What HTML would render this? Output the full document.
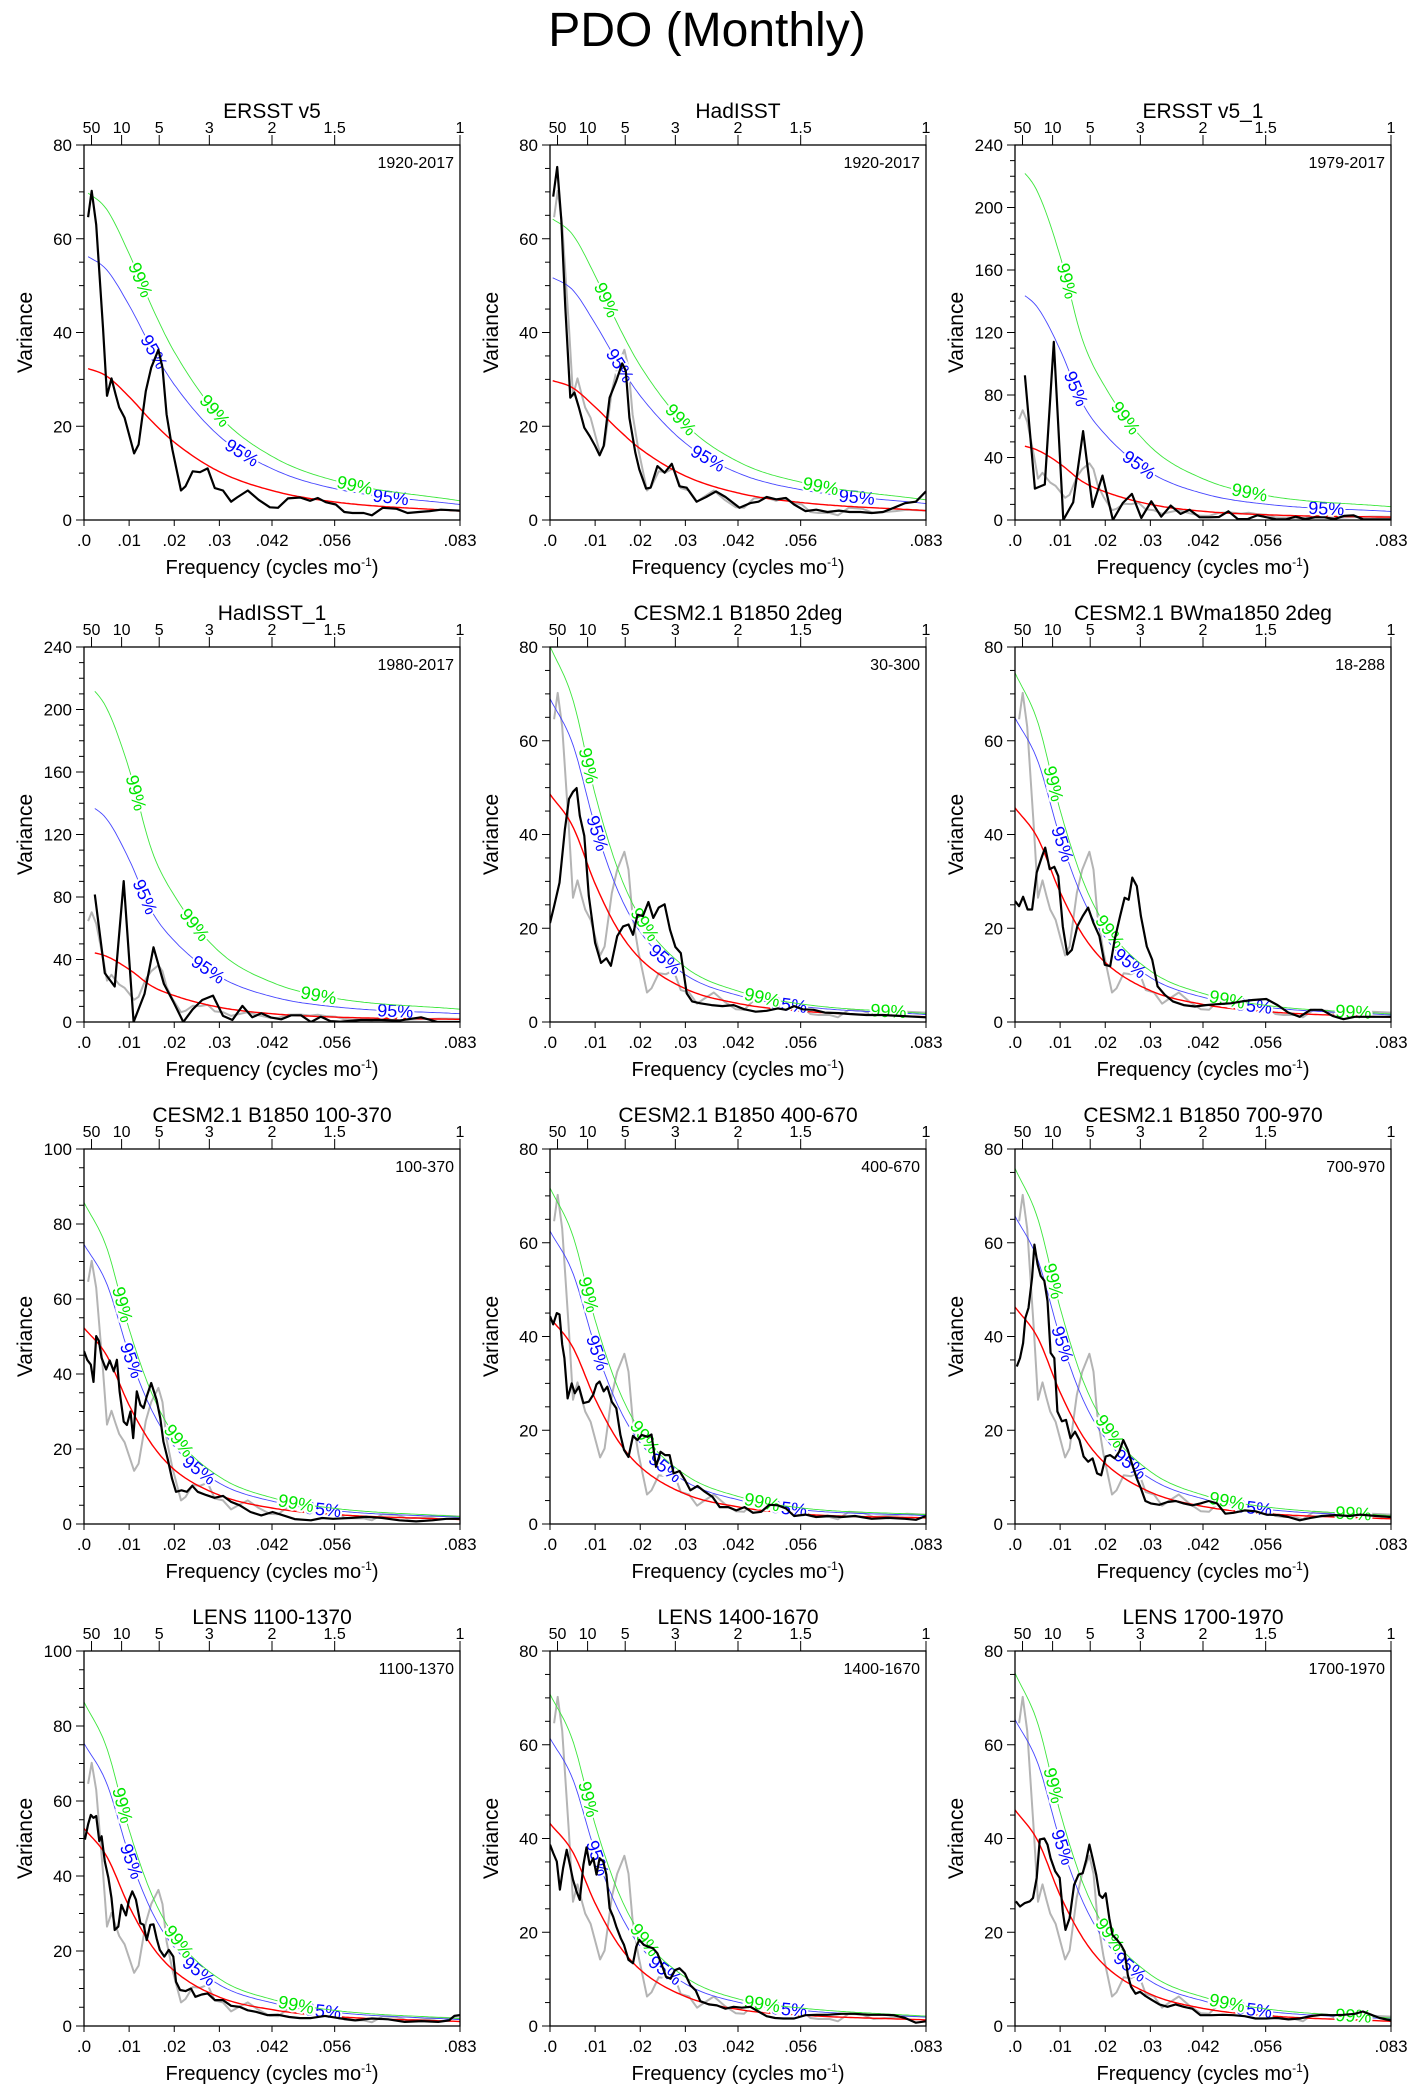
<!DOCTYPE html>
<html><head><meta charset="utf-8"><title>PDO (Monthly)</title>
<style>
html,body{margin:0;padding:0;background:#fff;}
svg{display:block;font-family:"Liberation Sans",Arial,sans-serif;}
</style></head>
<body>
<svg id="fig" xmlns="http://www.w3.org/2000/svg" width="1410" height="2095" viewBox="0 0 1410 2095">
<rect x="0" y="0" width="1410" height="2095" fill="#fff"/>
<text x="707" y="46" font-size="48" text-anchor="middle">PDO (Monthly)</text>
</svg>
<script>
// ---------- shared axis data ----------
const xTickFreqs = [0, 0.01, 0.02, 0.03, 0.041667, 0.055556, 0.083333];
const xTickLabels = [".0", ".01", ".02", ".03", ".042", ".056", ".083"];
const periodTickFreqs = [0.001667, 0.008333, 0.016667, 0.027778, 0.041667, 0.055556, 0.083333];
const periodTickLabels = ["50", "10", "5", "3", "2", "1.5", "1"];
const curveFreq = [0, 0.005, 0.01, 0.015, 0.02, 0.03, 0.042, 0.056, 0.0833];

const panelTitles = ["ERSST v5","HadISST","ERSST v5_1","HadISST_1","CESM2.1 B1850 2deg","CESM2.1 BWma1850 2deg","CESM2.1 B1850 100-370","CESM2.1 B1850 400-670","CESM2.1 B1850 700-970","LENS 1100-1370","LENS 1400-1670","LENS 1700-1970"];
const periodLabels = ["1920-2017","1920-2017","1979-2017","1980-2017","30-300","18-288","100-370","400-670","700-970","1100-1370","1400-1670","1700-1970"];
const yMaxes = [80,80,240,240,80,80,100,80,80,100,80,80];
const curveStart = [0.0009,0.0006,0.0022,0.0024,0,0,0,0,0,0,0,0];
const showGray = [false,true,true,true,true,true,true,true,true,true,true,true];

// ---------- red-noise / significance curves (read values) ----------
const red1=[32.6,30.7,26.3,21.1,16.6,10.3,6.2,3.8,1.9];
const c99_1=[70.4,66.3,56.8,45.6,35.9,22.2,13.4,8.3,4.1];
const c95_1=[56.7,53.4,45.8,36.7,28.9,17.9,10.8,6.6,3.3];
const red2=[29.9,28.2,24.1,19.4,15.2,9.4,5.7,3.7,2.0];
const c99_2=[64.6,60.9,52.1,41.8,32.9,20.4,12.3,8.0,4.3];
const c95_2=[52,49.1,41.9,33.7,26.5,16.4,9.9,6.4,3.5];
const red3=[48.7,44.7,35.9,24.5,18,10,5.5,3.3,1.8];
const c99_3=[229,210,169,115,85,47,26,15.5,8.5];
const c95_3=[148,136,109,74.5,54.7,30.4,16.7,10,5.5];
const red4=[45.7,42,33.7,23,16.9,9.4,5.2,3.1,1.7];
const c99_4=[219,201,162,110,81,45,25,15,8.2];
const c95_4=[141,130,104,71,52,29,16,9.6,5.3];
const red5=[48.6,41.8,29.5,19.8,13.5,7.1,3.9,2.3,1.1];
const c99_5=[80.2,69,48.6,32.7,22.3,11.7,6.5,3.8,1.8];
const c95_5=[69,59.4,41.8,28.1,19.2,10.1,5.6,3.3,1.6];
const red6=[45.7,39.3,27.7,18.6,12.7,6.7,3.7,2.2,1.0];
const c99_6=[74.5,64.1,45.2,30.3,20.7,10.9,6.0,3.5,1.7];
const c95_6=[64.9,55.8,39.4,26.4,18,9.5,5.2,3.1,1.5];
const red7=[52.3,45,31.7,21.3,14.5,7.7,4.2,2.5,1.2];
const c99_7=[85.8,73.8,52,34.9,23.8,12.6,6.9,4.1,2.0];
const c95_7=[74.6,64.2,45.3,30.4,20.7,10.9,6,3.5,1.8];
const red8=[44,37.8,26.7,17.9,12.2,6.4,3.6,2.1,1.3];
const c99_8=[71.7,61.7,43.5,29.2,19.9,10.5,5.8,3.4,2.0];
const c95_8=[62.5,53.7,37.9,25.4,17.3,9.1,5.1,3.0,1.8];
const red9=[46.3,39.8,28.1,18.8,12.9,6.8,3.7,2.2,1.1];
const c99_9=[75.9,65.3,46.1,30.8,21.2,11.2,6.1,3.6,1.8];
const c95_9=[65.7,56.5,39.9,26.7,18.3,9.7,5.3,3.1,1.6];
const red10=[52.7,45.3,31.9,21.4,14.7,7.7,4.3,2.5,1.2];
const c99_10=[86.4,74.3,52.3,35.1,24.1,12.6,7,4.1,2.0];
const c95_10=[75.4,64.8,45.6,30.6,21,11,6.1,3.6,1.7];
const red11=[43.2,37.2,26.2,17.6,12,6.3,3.5,2.3,1.3];
const c99_11=[70.8,61,43,28.9,19.7,10.4,5.7,3.8,2.1];
const c95_11=[61.4,52.8,37.2,25,17,9,5,3.3,1.9];
const red12=[46.1,39.6,27.9,18.8,12.8,6.8,3.7,2.2,1.0];
const c99_12=[75.3,64.7,45.6,30.6,20.9,11.0,6.1,3.6,1.7];
const c95_12=[65.4,56.2,39.6,26.6,18.1,9.6,5.3,3.1,1.5];

// ---------- spectra (black lines) ----------
const f1=[.0009,.0017,.0027,.0042,.0051,.0061,.007,.0078,.009,.0111,.0121,.0137,.0149,.0165,.0174,.0183,.0196,.0215,.0225,.0241,.0257,.0274,.029,.0308,.0326,.0339,.0363,.0387,.0412,.043,.0452,.0479,.0501,.0518,.0536,.0558,.0577,.0595,.062,.0638,.0662,.0693,.0717,.0742,.0766,.0791,.0833];
const v1=[64.6,70.2,63,41,26.5,30.2,26.8,24,21.8,14.2,16.1,27.5,32.5,36.3,32.5,22.5,15,6.3,7.2,10.4,10.2,11,6.8,6.3,3.9,4.8,6.3,4.3,2.7,2.6,4.6,4.8,4.1,4.7,3.8,3.3,1.7,1.5,1.5,1.0,2.6,2.4,1.5,1.7,1.9,2.2,2.0];
const f2=[.0007,.0016,.0025,.0034,.0045,.0054,.0064,.0076,.0088,.01,.011,.0119,.0132,.0147,.016,.0168,.0176,.0189,.0198,.0213,.0223,.0238,.0254,.027,.0287,.0303,.0325,.0346,.0368,.0389,.042,.0444,.0462,.048,.0502,.0523,.0541,.0566,.059,.0615,.064,.0664,.0688,.0713,.0738,.0762,.0787,.0811,.0833];
const v2=[69,75.3,64,45.4,26.1,27.2,24,19.7,17.9,15.8,13.8,15.8,26.1,29.7,33.4,31.8,21.8,14.4,10.8,6.7,6.9,11.5,10.1,12,7.2,6.9,3.9,4.9,6.1,4.9,2.6,3.6,3.9,4.9,4.4,4.7,3.3,1.9,2.2,1.7,2,1.7,1.7,1.5,1.7,2.6,3.6,3.9,6.1];
const f3=[.0022,.0044,.0066,.0086,.0107,.0129,.0151,.0172,.0194,.0217,.0239,.0259,.028,.0302,.0324,.0345,.0367,.0387,.0409,.043,.0452,.0473,.0494,.0515,.0537,.0558,.058,.06,.0622,.0643,.0665,.0686,.0708,.0729,.075,.0772,.0793,.0833];
const v3=[92.6,20.1,22.7,114,0,11.3,56.9,8.3,28.4,0,10.9,16.7,1.3,12,2.1,9.2,3.9,6.6,1.7,1.7,1.9,5.6,.6,.6,3,1.7,.4,.4,2.1,.6,1.7,1.7,.6,2.6,3,.4,.4,.4];
const f4=[.0024,.0046,.0068,.0088,.011,.0134,.0154,.0177,.0198,.022,.0241,.0262,.0286,.0308,.0329,.0351,.0373,.0393,.0415,.0437,.0459,.0481,.0503,.0525,.0546,.0568,.0613,.0656,.0699,.0747,.0784,.0833];
const v4=[81.6,31.3,22.7,90.2,0,18,47.8,24.4,13,0,8.1,14.1,16.9,3.9,1.3,10.3,3,5.6,2.8,1.7,4.3,4.3,0,3.4,.6,.2,1.3,1.3,.9,3,0,0];
const f5=[0,.0009,.0021,.0033,.0042,.0051,.0059,.0066,.0076,.0086,.01,.0113,.0125,.0135,.0149,.0162,.0174,.0184,.0194,.0206,.0218,.0229,.0241,.0254,.0266,.0278,.029,.0303,.0315,.0333,.0358,.0382,.0407,.0431,.0456,.048,.0505,.0523,.0541,.056,.0584,.0609,.064,.0664,.0701,.0737,.0774,.0833];
const v5=[21.1,24.7,29.7,41.1,47.6,49.1,49.9,44,39.7,26.9,16.9,12.6,13.6,12,18.3,20.4,20.8,18.6,22.9,22.6,25.6,22.2,24.4,25.1,19.7,16,14.7,6.1,4.4,4,3.6,3.4,3.6,2.7,2.2,2.4,2.9,2.6,3.4,2.7,2.6,2,1.9,1.7,1.5,1.5,1.3,1];
const f6=[0,.0009,.0018,.0028,.0038,.0048,.006,.0067,.0077,.0087,.0096,.0106,.0116,.0126,.0138,.015,.0162,.0174,.0187,.0199,.0211,.0221,.0233,.0243,.0252,.026,.027,.0279,.0292,.0304,.0316,.0332,.035,.0374,.0399,.0423,.0448,.0478,.0503,.0527,.0557,.0582,.0606,.0631,.0655,.068,.0704,.0728,.0753,.0777,.0833];
const v6=[25.8,24.7,26.7,24,24,31.9,35.4,37.2,32.6,33.1,31.1,20.4,14.4,15.4,20.4,22.6,24.4,21.1,18.3,12.2,11.9,17.6,22.6,26.5,26.1,30.8,29,22.6,16.1,13.3,7.6,5.8,4.4,3.6,3.3,3.6,3.8,4,4.4,4.7,4.9,3.6,2,1.1,2.6,2.6,1.3,.6,1.1,1.1,1.1];
const f7=[0,.0007,.0015,.0021,.0027,.0033,.0039,.0049,.0057,.0066,.0073,.0079,.0088,.0095,.0103,.0109,.0117,.0125,.0132,.0139,.0149,.0161,.0169,.0176,.0186,.0195,.0204,.0216,.0228,.024,.0252,.0271,.0289,.0308,.0326,.0345,.0369,.0393,.0418,.0442,.0467,.0503,.0528,.0552,.0589,.0625,.0662,.0699,.0736,.0772,.0803,.0833];
const v7=[46.1,43.8,42.5,37.9,50.1,48.8,44.3,41.2,43.6,40.7,43.8,35.4,27.3,26.4,30,22.9,35.4,31.8,30.9,34,37.6,33.1,28.2,22,17.1,12.1,8.6,9,8.6,10.2,8.6,7.7,7,7.5,5.9,5,3.2,2.3,3.2,2.3,1.3,1,1.6,1.4,1.6,1.9,1.6,1,.7,1,1.4,1.4];
const f8=[0,.0007,.0015,.0021,.0027,.0032,.0039,.0048,.0055,.0064,.0074,.0086,.0096,.0103,.011,.0119,.0127,.0137,.0147,.0156,.0164,.0174,.0184,.0194,.0203,.0216,.0225,.0235,.0245,.0255,.0265,.0274,.0287,.0299,.0311,.0327,.0343,.036,.0376,.0395,.0413,.0431,.045,.0468,.0486,.0505,.0523,.0541,.0566,.059,.0615,.0646,.0676,.0713,.075,.0787,.0811,.0833];
const v8=[44.3,42.6,45,44.7,38.3,35.4,26.8,30,27.9,29.3,25.8,26.1,27.6,29.8,30.4,28.3,29.3,26.1,24.7,19,15.8,14.3,18.8,17.9,19,18.6,19.1,12.2,15.4,14.7,14.7,10.8,11.3,9.4,7.2,8.1,6.9,5.8,3.6,3.6,2.9,3.6,2.4,2.6,4.1,4,3.3,1.7,2,1.5,1.7,1.5,1.7,1.1,1.3,1.1,.9,1.7];
const f9=[.0004,.0011,.0018,.0023,.003,.0038,.0043,.005,.0057,.0065,.0072,.0079,.0087,.0094,.0104,.0113,.0123,.0133,.0143,.0152,.0162,.0172,.0182,.0191,.0201,.0211,.0221,.0231,.024,.025,.026,.027,.0279,.0289,.0301,.032,.0338,.0356,.0374,.0393,.0411,.0429,.0448,.0466,.0484,.0509,.0533,.0557,.0582,.0606,.0631,.0655,.068,.071,.0741,.0765,.0801,.0833];
const v9=[33.6,35.4,38.6,44,46.1,52.6,59.6,55.4,52.9,51.9,47.6,36.5,35.4,24,21.9,22.2,18.3,19.7,17.9,14.4,13.3,14,10.8,10.4,14.4,14.7,14,15.4,17.9,15.8,12.6,9.7,7.6,4.9,4.4,4.1,4.7,4.9,4.4,4,4.4,4.9,4.4,2.2,2.4,2.9,2.7,2,1.9,1.5,.8,1.3,1.7,1.9,1.7,2,1.7,1.5];
const f10=[.0002,.0009,.0015,.0021,.0027,.0034,.0039,.0046,.0054,.0061,.0068,.0076,.0083,.0093,.01,.0107,.0115,.0125,.0132,.0139,.0147,.0154,.0161,.0168,.0178,.0188,.0198,.0204,.0213,.0225,.0237,.0247,.0261,.0274,.029,.0308,.0326,.0345,.0363,.0381,.0406,.043,.0455,.0479,.0503,.0534,.0564,.0601,.0638,.0674,.0711,.0748,.0785,.0809,.0821,.0833];
const v10=[49.7,53.8,56.3,55.5,56,49.3,50.6,43.9,39.5,34.1,25.6,26.5,32.3,29.5,33.7,35.9,33.7,27.4,27,22.9,27,27.1,23.4,20.3,18.5,20.3,18.5,11.8,9.6,9.3,10,7.8,8.4,8.7,6.9,6.9,5.4,5.1,4.2,3.8,2.9,3,2.4,2.1,2.1,2.7,2.1,1.5,2,1.8,1.1,1.3,1.1,1.5,2.7,2.9];
const f11=[0,.0007,.0015,.0022,.0029,.0037,.0044,.0051,.0059,.0066,.0074,.0081,.0088,.0096,.0103,.011,.0118,.0125,.0132,.014,.0147,.0157,.0164,.0174,.0184,.0191,.0198,.0208,.0218,.0228,.0238,.0248,.0257,.0267,.0277,.0287,.0299,.0311,.0323,.0333,.0352,.037,.0389,.0407,.0425,.0444,.0462,.048,.0499,.0517,.0541,.0566,.059,.0615,.0646,.0676,.0707,.0738,.0762,.0787,.0811,.0833];
const v11=[38.7,36.9,35.1,29.1,33.7,37.6,34.4,31.2,28.7,26.9,34.4,38.1,34.4,35.8,32.3,35.8,35.1,32.3,25.1,23.3,21.2,18.7,17.3,14.1,13.4,16.9,18.4,17.3,16.9,16.6,15.5,13,10.5,10.1,11.9,12.3,11.2,8.7,7.6,5.3,4.6,4.4,3.7,4.1,3.9,4.1,3.1,2.1,1.7,1.6,1.6,2.3,2.4,2.4,2.6,2.6,2.4,2.4,2.3,1.7,.7,1];
const f12=[.0002,.0011,.0021,.0033,.004,.0048,.0055,.0065,.0072,.0079,.0089,.0099,.0106,.0112,.0121,.0131,.0141,.015,.0158,.0165,.0172,.018,.0187,.0194,.0201,.0209,.0216,.0226,.0235,.0243,.025,.0257,.0267,.0277,.0289,.0304,.032,.0338,.0356,.0374,.0393,.0411,.0435,.046,.0484,.0509,.0533,.0557,.0582,.0606,.0631,.0655,.068,.0704,.0728,.0753,.0771,.079,.0808,.0833];
const v12=[26.6,25.5,26.2,26.6,27.3,31.6,39.8,40,38.7,35.8,33,31.6,24.4,20.5,23,30.1,32.3,32.6,35.5,38.7,35.8,32.3,28,27.3,28.3,23,19.4,18.4,17.3,15.9,10.9,8.4,6.9,7.3,6.4,5.5,4.6,4.1,4.6,4.1,3.7,2.3,2.3,2.4,2.3,2.1,1.6,1.6,1.7,1.4,1.6,2.1,2.4,2.3,2.4,2.6,3.1,2.4,1.7,1.2];

// ---------- label positions along curves (freq) ----------
const lab99_obs=[0.0125,0.029,0.06];
const lab95_obs=[0.0155,0.035,0.068];
const lab99_short=[0.0115,0.0245,0.052];
const lab95_short=[0.0135,0.0275,0.069];
const lab99_model=[0.0085,0.021,0.047];
const lab95_model=[0.0105,0.0255,0.053];
const lab99_extra=[0.0085,0.021,0.047,0.075];

const reds=[red1,red2,red3,red4,red5,red6,red7,red8,red9,red10,red11,red12];
const c99s=[c99_1,c99_2,c99_3,c99_4,c99_5,c99_6,c99_7,c99_8,c99_9,c99_10,c99_11,c99_12];
const c95s=[c95_1,c95_2,c95_3,c95_4,c95_5,c95_6,c95_7,c95_8,c95_9,c95_10,c95_11,c95_12];
const specF=[f1,f2,f3,f4,f5,f6,f7,f8,f9,f10,f11,f12];
const specV=[v1,v2,v3,v4,v5,v6,v7,v8,v9,v10,v11,v12];
const lab99s=[lab99_obs,lab99_obs,lab99_short,lab99_short,lab99_extra,lab99_extra,lab99_model,lab99_model,lab99_extra,lab99_model,lab99_model,lab99_extra];
const lab95s=[lab95_obs,lab95_obs,lab95_short,lab95_short,lab95_model,lab95_model,lab95_model,lab95_model,lab95_model,lab95_model,lab95_model,lab95_model];

// ---------- layout ----------
const colX=[84,550,1015], rowY=[145,647,1149,1651];
const PW=376, PH=375, FMAX=0.083333;
const NS="http://www.w3.org/2000/svg";
const svg=document.getElementById('fig');

function mk(tag, attrs, parent){
  const e=document.createElementNS(NS,tag);
  for(const k in attrs) e.setAttribute(k,attrs[k]);
  (parent||svg).appendChild(e);
  return e;
}
function monoInterp(xsA, ysA){
  const n=xsA.length, d=[], m=new Array(n);
  for(let i=0;i<n-1;i++) d.push((ysA[i+1]-ysA[i])/(xsA[i+1]-xsA[i]));
  m[0]=d[0]; m[n-1]=d[n-2];
  for(let i=1;i<n-1;i++){ m[i]=(d[i-1]*d[i]<=0)?0:(d[i-1]+d[i])/2; }
  for(let i=0;i<n-1;i++){
    if(d[i]===0){m[i]=0;m[i+1]=0;continue;}
    const a=m[i]/d[i], b=m[i+1]/d[i], s=a*a+b*b;
    if(s>9){const t=3/Math.sqrt(s); m[i]=t*a*d[i]; m[i+1]=t*b*d[i];}
  }
  return function(x){
    let i=0; while(i<n-2 && x>xsA[i+1]) i++;
    const h=xsA[i+1]-xsA[i], t=(x-xsA[i])/h;
    const h00=2*t*t*t-3*t*t+1,h10=t*t*t-2*t*t+t,h01=-2*t*t*t+3*t*t,h11=t*t*t-t*t;
    return h00*ysA[i]+h10*h*m[i]+h01*ysA[i+1]+h11*h*m[i+1];
  };
}

for(let p=0;p<12;p++){
  const X0=colX[p%3], Y0=rowY[Math.floor(p/3)], ymax=yMaxes[p];
  const sx=f=>X0+f/FMAX*PW;
  const sy=v=>Y0+PH-v/ymax*PH;
  const g=mk('g',{});
  
  

  const cp=mk('clipPath',{id:'clip'+p},g);
  mk('rect',{x:X0,y:Y0,width:PW,height:PH},cp);

  const t=mk('text',{x:X0+PW/2,y:Y0-27,'font-size':21,'text-anchor':'middle'},g);
  t.textContent=panelTitles[p];
  
  
  const yl=mk('text',{x:X0+PW-6,y:Y0+23,'font-size':16,'text-anchor':'end'},g);
  yl.textContent=periodLabels[p];
  
  

  periodTickFreqs.forEach((f,i)=>{
    const tk=mk('line',{x1:sx(f),x2:sx(f),y1:Y0,y2:Y0-10,stroke:'#000','stroke-width':1},g);
    
    
    const tl=mk('text',{x:sx(f),y:Y0-12,'font-size':16,'text-anchor':'middle'},g);
    tl.textContent=periodTickLabels[i];
    
    
  });
  xTickFreqs.forEach((f,i)=>{
    const tk=mk('line',{x1:sx(f),x2:sx(f),y1:Y0+PH,y2:Y0+PH+6,stroke:'#000','stroke-width':1},g);
    
    
    const tl=mk('text',{x:sx(f),y:Y0+PH+26,'font-size':17,'text-anchor':'middle'},g);
    tl.textContent=xTickLabels[i];
    
    
  });
  const major=ymax===240?40:20, minor=ymax===240?10:5;
  for(let v=0;v<=ymax+0.001;v+=minor){
    const isMaj=Math.abs(v/major-Math.round(v/major))<1e-6;
    const tk=mk('line',{x1:X0,x2:X0-(isMaj?8:5),y1:sy(v),y2:sy(v),stroke:'#000','stroke-width':1},g);
    
    
    if(isMaj){
      const tl=mk('text',{x:X0-12,y:sy(v)+6,'font-size':17,'text-anchor':'end'},g);
      tl.textContent=String(v);
      
      
    }
  }
  const ya=mk('text',{x:0,y:0,'font-size':21,'text-anchor':'middle',transform:`translate(${X0-52},${Y0+PH/2}) rotate(-90)`},g);
  ya.textContent='Variance';
  
  
  const xa=mk('text',{x:X0+PW/2,y:Y0+PH+54,'font-size':20,'text-anchor':'middle'},g);
  
  
  xa.appendChild(document.createTextNode('Frequency (cycles mo'));
  const sup=mk('tspan',{dy:-8,'font-size':12},xa); sup.textContent='-1';
  const cl=mk('tspan',{dy:8},xa); cl.textContent=')';

  const plot=mk('g',{'clip-path':`url(#clip${p})`},g);
  
  

  if(showGray[p]){
    const pts=f1.map((f,i)=>sx(f).toFixed(1)+','+sy(v1[i]).toFixed(1)).join(' ');
    const gl=mk('polyline',{points:pts,fill:'none',stroke:'#b4b4b4','stroke-width':2,'stroke-linejoin':'round'},plot);
    
    
  }
  const curves=[[reds[p],'#ff0000',1.4,'red-noise-line',null,null],
                [c95s[p],'#4646ff',0.9,'confidence-95-line','95%','#0000ff'],
                [c99s[p],'#3ce63c',0.9,'confidence-99-line','99%','#00e600']];
  curves.forEach(([vals,col,w,name,lab,lcol],ci)=>{
    const fn=monoInterp(curveFreq,vals);
    const pts=[];
    const fs=curveStart[p];
    for(let k=0;k<=160;k++){const f=fs+(0.0833-fs)*k/160; pts.push(sx(f).toFixed(1)+','+sy(fn(f)).toFixed(1));}
    const l=mk('polyline',{points:pts.join(' '),fill:'none',stroke:col,'stroke-width':w},plot);
    
    
    if(lab){
      const lf=ci===1?lab95s[p]:lab99s[p];
      lf.forEach(f=>{
        const x=sx(f), y=sy(fn(f));
        const dx=sx(f+0.0008)-sx(f-0.0008), dy=sy(fn(f+0.0008))-sy(fn(f-0.0008));
        const ang=Math.atan2(dy,dx)*180/Math.PI;
        const tx=mk('text',{x:0,y:6,'font-size':18,'text-anchor':'middle',fill:lcol,stroke:'#fff','stroke-width':4,'paint-order':'stroke',transform:`translate(${x.toFixed(1)},${y.toFixed(1)}) rotate(${ang.toFixed(1)})`},plot);
        tx.textContent=lab;
        
        
      });
    }
  });
  const F=specF[p], V=specV[p], n=Math.min(F.length,V.length);
  const bp=[]; for(let i=0;i<n;i++) bp.push(sx(F[i]).toFixed(1)+','+sy(V[i]).toFixed(1));
  const bl=mk('polyline',{points:bp.join(' '),fill:'none',stroke:'#000','stroke-width':2.2,'stroke-linejoin':'round'},plot);
  
  

  const fr=mk('rect',{x:X0,y:Y0,width:PW,height:PH,fill:'none',stroke:'#000','stroke-width':1.3},g);
  
  
}
</script>
</body></html>
